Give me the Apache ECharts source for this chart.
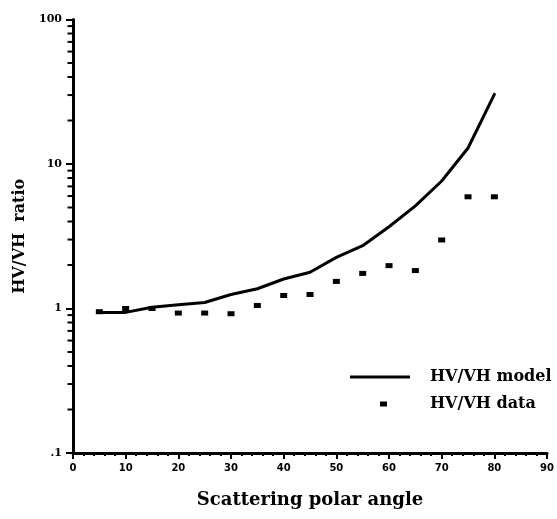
<!DOCTYPE html>
<html>
<head>
<meta charset="utf-8">
<script src="https://cdn.jsdelivr.net/npm/echarts@6/dist/echarts.min.js"></script>
<style>html,body{margin:0;padding:0;background:#fff}#c{width:557px;height:519px}</style>
</head>
<body>
<div id="c"></div>
<script>
var angles = [5, 10, 15, 20, 25, 30, 35, 40, 45, 50, 55, 60, 65, 70, 75, 80];
var modelValues = [0.94, 0.94, 1.02, 1.06, 1.1, 1.25, 1.37, 1.6, 1.78, 2.26, 2.72, 3.68, 5.13, 7.63, 12.9, 30.3];
var dataValues = [0.95, 1.0, 1.0, 0.93, 0.93, 0.92, 1.05, 1.23, 1.25, 1.54, 1.75, 1.98, 1.83, 2.98, 5.93, 5.93];
var yTickLabels = {0.1: '.1', 1: '1', 10: '10', 100: '100'};
var yMinorTicks = [0.2,0.3,0.4,0.5,0.6,0.7,0.8,0.9,2,3,4,5,6,7,8,9,20,30,40,50,60,70,80,90];

var serif = '"DejaVu Serif", serif';
var chart = echarts.init(document.getElementById('c'));
chart.setOption({
  animation: false,
  backgroundColor: '#fff',
  grid: {left: 73, right: 9, top: 19.5, bottom: 66},
  legend: [{
    data: [{name: 'HV/VH model', icon: 'rect'}],
    left: 350, top: 369, padding: 0, itemWidth: 60, itemHeight: 3,
    textStyle: {fontFamily: serif, fontWeight: 'bold', fontSize: 16, color: '#000', padding: [0, 0, 0, 15]},
    selectedMode: false
  }, {
    data: [{name: 'HV/VH data', icon: 'rect'}],
    left: 380, top: 396, padding: 0, itemWidth: 7, itemHeight: 5,
    textStyle: {fontFamily: serif, fontWeight: 'bold', fontSize: 16, color: '#000', padding: [0, 0, 0, 38]},
    selectedMode: false
  }],
  xAxis: {
    type: 'value', min: 0, max: 90, interval: 10,
    name: 'Scattering polar angle', nameLocation: 'middle', nameGap: 38,
    nameTextStyle: {fontFamily: serif, fontWeight: 'bold', fontSize: 18, color: '#000'},
    axisLine: {show: true, onZero: false, lineStyle: {color: '#000', width: 3}},
    axisTick: {show: true, length: 6, lineStyle: {color: '#000', width: 2}},
    minorTick: {show: true, splitNumber: 5, length: 3, lineStyle: {color: '#000', width: 2}},
    axisLabel: {margin: 10, fontFamily: '"DejaVu Sans", sans-serif', fontWeight: 'bold', fontSize: 10, color: '#000'},
    splitLine: {show: false}
  },
  yAxis: {
    type: 'log', logBase: 10, min: 0.1, max: 100,
    name: 'HV/VH  ratio', nameLocation: 'middle', nameGap: 41,
    nameTextStyle: {fontFamily: serif, fontWeight: 'bold', fontSize: 16, color: '#000'},
    axisLine: {show: true, onZero: false, lineStyle: {color: '#000', width: 3}},
    axisTick: {show: true, length: 7, lineStyle: {color: '#000', width: 2}},
    axisLabel: {margin: 11, fontFamily: serif, fontWeight: 'bold', fontSize: 11, color: '#000',
      formatter: function (v) { var k = Math.round(Math.log10(v)); return yTickLabels[Math.pow(10, k)] || ''; }},
    splitLine: {show: false}
  },
  series: [{
    name: 'HV/VH model', type: 'line', smooth: false, symbol: 'none',
    lineStyle: {color: '#000', width: 3, join: 'round', cap: 'round'},
    itemStyle: {color: '#000'},
    data: angles.map(function (a, i) { return [a, modelValues[i]]; })
  }, {
    name: 'HV/VH data', type: 'scatter', symbol: 'rect', symbolSize: [7, 5],
    itemStyle: {color: '#000', opacity: 1},
    data: angles.map(function (a, i) { return [a, dataValues[i]]; })
  }, {
    name: 'yMinor', type: 'scatter', symbol: 'rect', symbolSize: [5, 2], symbolOffset: [-3, 0],
    clip: false, silent: true, itemStyle: {color: '#000', opacity: 1},
    data: yMinorTicks.map(function (v) { return [0, v]; })
  }]
});
</script>
</body>
</html>
